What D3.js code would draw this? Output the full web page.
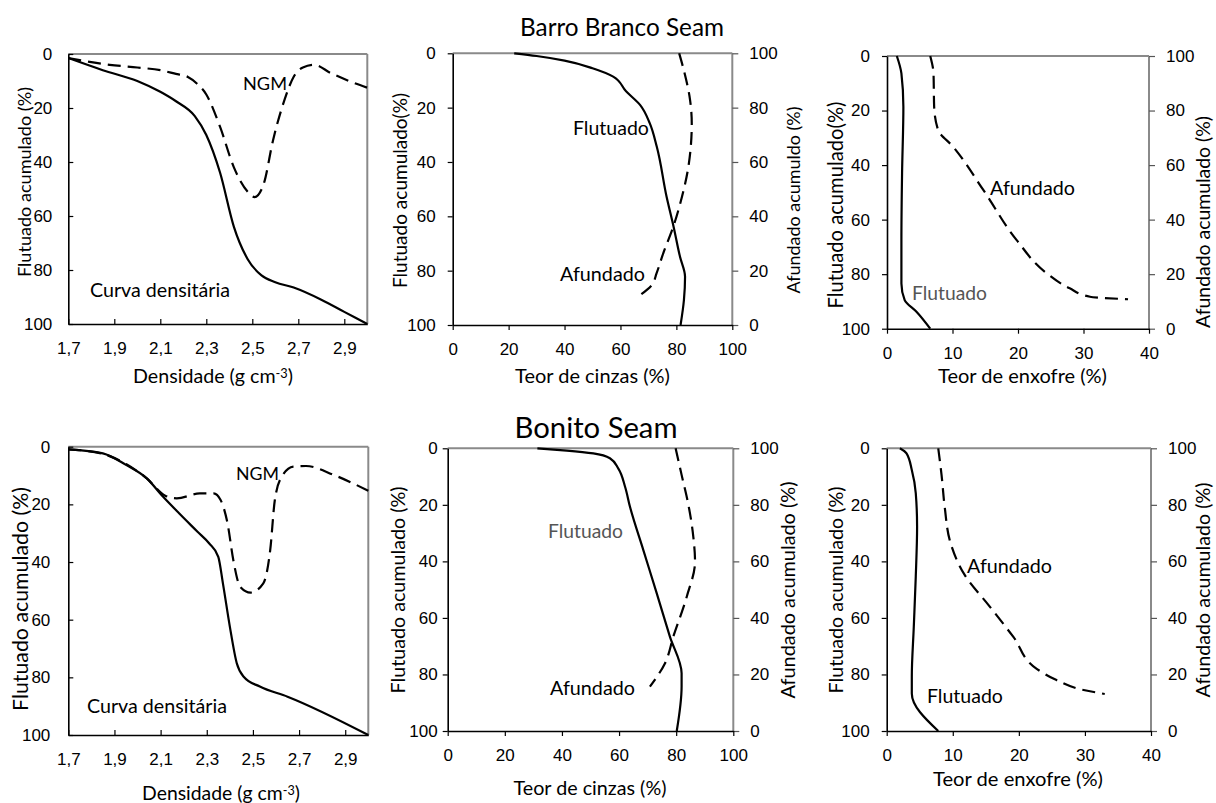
<!DOCTYPE html>
<html>
<head>
<meta charset="utf-8">
<script src="https://cdn.jsdelivr.net/npm/d3@7"></script>
<style>
  body { margin: 0; background: #fff; }
  svg { font-family: Lato, "Open Sans", sans-serif; }
</style>
</head>
<body>
<svg id="chart" width="1216" height="803"></svg>
<script>
// ---- Barro Branco Seam ----
// densimetric curve (density vs. cumulative float %)
const bbCurvaDens = [1.70, 1.85, 2.00, 2.10, 2.17, 2.25, 2.30, 2.36, 2.42, 2.48, 2.54, 2.60, 2.68, 2.80, 2.90, 3.00];
const bbCurvaFlut = [1.5, 6, 10, 14, 17.6, 23, 30, 44, 64, 76, 82, 84.5, 86.5, 91, 95.5, 100];
const bbNgmDens = [1.70, 1.88, 2.00, 2.10, 2.16, 2.22, 2.26, 2.30, 2.36, 2.42, 2.48, 2.51, 2.55, 2.59, 2.64, 2.68, 2.72, 2.77, 2.84, 2.92, 3.00];
const bbNgm = [1.5, 4, 5, 6, 7.2, 8.5, 11, 15, 27, 42, 51, 53, 48, 32, 17, 8.4, 5, 4, 7, 10, 12.5];
// ash content
const bbAshFlutX = [22, 30, 40, 50, 57.4, 62, 67, 70.5, 73, 76.5, 79, 81.3, 83.1, 82.7, 81.5];
const bbAshFlutY = [0, 1, 2.7, 5.5, 8.6, 14, 19, 25.8, 34.4, 52.8, 63.8, 74.9, 82.2, 90.8, 100];
const bbAshAfX = [81, 82.8, 84.9, 85.5, 84.3, 82, 78.9, 75.3, 72.9, 71.2, 67];
const bbAshAfY = [100, 93.2, 82.8, 74.2, 58.3, 47.2, 36.2, 26.4, 19, 14.7, 11];
// sulphur content
const bbSFlutX = [1.5, 2.2, 2.5, 2.3, 2.2, 2.2, 2.7, 4.5, 6.6];
const bbSFlutY = [0, 6.4, 18.6, 43, 67.5, 83.4, 89.5, 93.8, 100];
const bbSAfX = [6.6, 7.1, 7.2, 7.8, 10.1, 14.7, 19.8, 24.4, 27.9, 31, 36.8];
const bbSAfY = [100, 93.6, 81.4, 72.9, 66.7, 50.9, 32.5, 20.3, 14.8, 11.7, 10.8];

// ---- Bonito Seam ----
const boCurvaDens = [1.70, 1.85, 1.95, 2.04, 2.11, 2.18, 2.26, 2.31, 2.35, 2.37, 2.40, 2.43, 2.46, 2.53, 2.65, 3.00];
const boCurvaFlut = [0.9, 2.3, 6.3, 11, 17.3, 23.1, 29.5, 33.5, 38.2, 47.4, 62.4, 75.1, 79.8, 83.2, 86.7, 100];
const boNgmDens = [1.70, 1.85, 1.95, 2.04, 2.12, 2.17, 2.27, 2.33, 2.36, 2.39, 2.415, 2.445, 2.49, 2.545, 2.575, 2.595, 2.625, 2.675, 2.73, 2.85, 3.00];
const boNgm = [0.9, 2.5, 6, 11, 17, 17.9, 16.2, 16.2, 18.5, 26.6, 39.3, 48.6, 50.6, 47.4, 35.8, 18.5, 10.4, 6.9, 6.7, 9.8, 15.3];
const boAshFlutX = [31.4, 41.7, 51, 56.8, 59.7, 62.1, 63.8, 68.5, 73.2, 77.8, 81.9, 81.9, 80.2];
const boAshFlutY = [0, 0.8, 1.8, 3.5, 7.1, 13.6, 20.6, 36, 51.3, 66.6, 79.6, 84.3, 100];
const boAshAfX = [79.8, 81.9, 84.3, 86, 86.6, 83.7, 79, 76.1, 70.8];
const boAshAfY = [100, 90.6, 79.9, 68.7, 59.9, 47.5, 33.4, 24, 15.7];
const boSFlutX = [2, 3, 3.8, 4.4, 4.6, 4.4, 4.1, 3.8, 3.8, 7.8];
const boSFlutY = [0, 1.8, 7.7, 15.9, 27.7, 45.4, 63.1, 80.8, 86.7, 100];
const boSAfX = [7.8, 8.3, 8.8, 9.6, 11.8, 15.6, 19.2, 22.7, 25.7, 29.8, 33];
const boSAfY = [100, 90.6, 78.8, 67, 55.2, 44, 33.2, 22, 18, 14.5, 13.1];

// ticks
const densTicks = [1.7, 1.9, 2.1, 2.3, 2.5, 2.7, 2.9];
const ashTicks = [0, 20, 40, 60, 80, 100];
const sulTicks = [0, 10, 20, 30, 40];
const pctTicks = [0, 20, 40, 60, 80, 100];

const svg = d3.select("#chart");
const zip = (xs, ys) => xs.map((x, i) => [x, ys[i]]);
const comma = d => String(d).replace(".", ",");

// scale font so the text spans the wanted width (Calibri-like look with Lato)
function fit(sel, w) {
  const fs = 20;
  sel.attr("font-size", fs);
  const len = sel.node().getComputedTextLength();
  sel.attr("font-size", (fs * w / len).toFixed(2));
  return sel;
}

function panel(p) {
  const x = d3.scaleLinear().domain(p.xDomain).range([p.l, p.r]);
  const y = d3.scaleLinear().domain([0, 100]).range([p.t, p.b]);
  const yR = d3.scaleLinear().domain([100, 0]).range([p.t, p.b]);
  const g = svg.append("g");
  const tk = p.inside ? -5 : 5;

  // top border + right border (grey)
  g.append("line").attr("x1", p.l).attr("x2", p.r).attr("y1", p.t).attr("y2", p.t)
    .attr("stroke", "#8a8a8a").attr("stroke-width", 2);
  g.append("line").attr("x1", p.r).attr("x2", p.r).attr("y1", p.t).attr("y2", p.b)
    .attr("stroke", "#8a8a8a").attr("stroke-width", 2);

  if (p.right) {
    const ar = g.append("g").attr("transform", `translate(${p.r},0)`)
      .call(d3.axisRight(yR).tickValues(pctTicks).tickSize(6).tickSizeOuter(0));
    ar.select(".domain").remove();
    ar.selectAll("line").attr("stroke", "#555").attr("stroke-width", 1.2);
    ar.selectAll("text").attr("x", 17).attr("font-size", 17).attr("fill", "#000");
  }

  const ax = g.append("g").attr("transform", `translate(0,${p.b})`)
    .call(d3.axisBottom(x).tickValues(p.xTicks).tickFormat(p.fmt).tickSize(tk).tickSizeOuter(0));
  ax.selectAll("text").attr("y", 30).attr("dy", 0).attr("font-size", 17).attr("fill", "#000");
  ax.selectAll("line").attr("stroke-width", 1.2);
  ax.select(".domain").attr("stroke-width", 1.6);

  const ay = g.append("g").attr("transform", `translate(${p.l},0)`)
    .call(d3.axisLeft(y).tickValues(pctTicks).tickSize(tk).tickSizeOuter(0));
  ay.selectAll("text").attr("x", -p.lpad).attr("font-size", 17).attr("fill", "#000");
  ay.selectAll("line").attr("stroke-width", 1.2);
  ay.select(".domain").attr("stroke-width", 1.6);

  // curves
  const curve = p.vertical ? d3.curveMonotoneY : d3.curveMonotoneX;
  p.series.forEach(s => {
    const ys = s.right ? yR : y;
    const line = d3.line().x(d => x(d[0])).y(d => ys(d[1])).curve(curve);
    g.append("path").datum(s.data).attr("d", line)
      .attr("fill", "none").attr("stroke", "#000").attr("stroke-width", 2.2)
      .attr("stroke-dasharray", s.dashed ? "13,7" : null);
  });

  // in-plot labels
  p.labels.forEach(lb => {
    const t = g.append("text").attr("x", lb.x).attr("y", lb.y)
      .attr("fill", lb.color || "#000").text(lb.text);
    fit(t, lb.w);
  });

  // axis titles
  const xt = g.append("text").attr("x", p.xtX).attr("y", p.xtY).attr("text-anchor", "middle");
  if (p.sup) {
    xt.append("tspan").text(p.xTitle);
    xt.append("tspan").attr("dy", "-0.4em").attr("font-size", "0.65em").text(p.sup);
    xt.append("tspan").attr("dy", "0.26em").text(")");
  } else {
    xt.text(p.xTitle);
  }
  fit(xt, p.xtW);
  const lt = g.append("text").attr("transform", `translate(${p.ltX},${p.ltY}) rotate(-90)`)
    .attr("text-anchor", "middle").text(p.lTitle);
  fit(lt, p.ltW);
  if (p.right) {
    const rt = g.append("text").attr("transform", `translate(${p.rtX},${p.rtY}) rotate(-90)`)
      .attr("text-anchor", "middle").text(p.rTitle);
    fit(rt, p.rtW);
  }
}

// titles
fit(svg.append("text").attr("x", 622).attr("y", 36).attr("text-anchor", "middle")
  .text("Barro Branco Seam"), 204);
fit(svg.append("text").attr("x", 596).attr("y", 438).attr("text-anchor", "middle")
  .text("Bonito Seam"), 163);

panel({
  l: 68.3, r: 367.3, t: 54, b: 324, xDomain: [1.7, 3.0], xTicks: densTicks, fmt: comma,
  inside: true, lpad: 16, vertical: false,
  series: [
    { data: zip(bbCurvaDens, bbCurvaFlut) },
    { data: zip(bbNgmDens, bbNgm), dashed: true }
  ],
  labels: [{ text: "NGM", x: 243, y: 90, w: 44 }, { text: "Curva densitária", x: 90, y: 297, w: 140 }],
  xTitle: "Densidade (g cm", sup: "-3", xtX: 213, xtY: 383, xtW: 160,
  lTitle: "Flutuado acumulado (%)", ltX: 31, ltY: 182, ltW: 190
});
panel({
  l: 452.7, r: 732.3, t: 53.3, b: 325, xDomain: [0, 100], xTicks: ashTicks, fmt: d3.format("d"),
  inside: false, lpad: 17, vertical: true, right: true,
  series: [
    { data: zip(bbAshFlutX, bbAshFlutY) },
    { data: zip(bbAshAfX, bbAshAfY), dashed: true, right: true }
  ],
  labels: [{ text: "Flutuado", x: 573, y: 135, w: 76 }, { text: "Afundado", x: 560, y: 281, w: 85 }],
  xTitle: "Teor de cinzas (%)", xtX: 592.5, xtY: 383, xtW: 155,
  lTitle: "Flutuado acumulado(%)", ltX: 407, ltY: 190.5, ltW: 195,
  rTitle: "Afundado acumuldo (%)", rtX: 800, rtY: 200, rtW: 187
});
panel({
  l: 887, r: 1149, t: 56, b: 328.7, xDomain: [0, 40], xTicks: sulTicks, fmt: d3.format("d"),
  inside: false, lpad: 17, vertical: true, right: true,
  series: [
    { data: zip(bbSFlutX, bbSFlutY) },
    { data: zip(bbSAfX, bbSAfY), dashed: true, right: true }
  ],
  labels: [{ text: "Afundado", x: 990, y: 195, w: 85 }, { text: "Flutuado", x: 912, y: 300, w: 75, color: "#555" }],
  xTitle: "Teor de enxofre (%)", xtX: 1022.5, xtY: 383, xtW: 169,
  lTitle: "Flutuado acumulado(%)", ltX: 843, ltY: 205, ltW: 207,
  rTitle: "Afundado acumulado (%)", rtX: 1210, rtY: 222, rtW: 212
});
panel({
  l: 68.3, r: 368.3, t: 446.7, b: 735, xDomain: [1.7, 3.0], xTicks: densTicks, fmt: comma,
  inside: true, lpad: 18, vertical: false,
  series: [
    { data: zip(boCurvaDens, boCurvaFlut) },
    { data: zip(boNgmDens, boNgm), dashed: true }
  ],
  labels: [{ text: "NGM", x: 236, y: 480, w: 43 }, { text: "Curva densitária", x: 87, y: 713, w: 140 }],
  xTitle: "Densidade (g cm", sup: "-3", xtX: 221, xtY: 800, xtW: 158,
  lTitle: "Flutuado acumulado (%)", ltX: 28, ltY: 599, ltW: 224
});
panel({
  l: 447.7, r: 733.3, t: 448.3, b: 731, xDomain: [0, 100], xTicks: ashTicks, fmt: d3.format("d"),
  inside: false, lpad: 10, vertical: true, right: true,
  series: [
    { data: zip(boAshFlutX, boAshFlutY) },
    { data: zip(boAshAfX, boAshAfY), dashed: true, right: true }
  ],
  labels: [{ text: "Flutuado", x: 548, y: 538, w: 75, color: "#555" }, { text: "Afundado", x: 550, y: 695, w: 85 }],
  xTitle: "Teor de cinzas (%)", xtX: 590, xtY: 795, xtW: 153,
  lTitle: "Flutuado acumulado (%)", ltX: 405, ltY: 590, ltW: 207,
  rTitle: "Afundado acumulado (%)", rtX: 795, rtY: 590, rtW: 217
});
panel({
  l: 886.7, r: 1151, t: 448.3, b: 731, xDomain: [0, 40], xTicks: sulTicks, fmt: d3.format("d"),
  inside: false, lpad: 17, vertical: true, right: true,
  series: [
    { data: zip(boSFlutX, boSFlutY) },
    { data: zip(boSAfX, boSAfY), dashed: true, right: true }
  ],
  labels: [{ text: "Afundado", x: 967, y: 573, w: 85 }, { text: "Flutuado", x: 927, y: 703, w: 76 }],
  xTitle: "Teor de enxofre (%)", xtX: 1018, xtY: 786, xtW: 170,
  lTitle: "Flutuado acumulado (%)", ltX: 843, ltY: 590, ltW: 207,
  rTitle: "Afundado acumulado (%)", rtX: 1210, rtY: 590, rtW: 215
});
</script>
</body>
</html>
